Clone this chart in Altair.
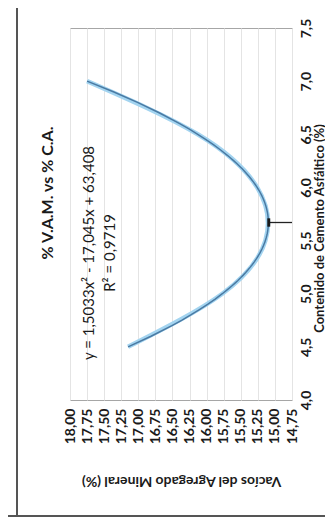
import altair as alt
import pandas as pd

# values
ca = [4.5, 5.0, 5.5, 6.0, 6.5, 7.0]
vam = [17.15, 15.77, 15.14, 15.26, 16.13, 17.75]
opt_ca = [5.67]
opt_vam = [15.09]
vam_ticks = [14.75, 15.0, 15.25, 15.5, 15.75, 16.0, 16.25, 16.5, 16.75, 17.0, 17.25, 17.5, 17.75, 18.0]
ca_ticks = [4.0, 4.5, 5.0, 5.5, 6.0, 6.5, 7.0, 7.5]
title_txt = "% V.A.M. vs % C.A."
eq_txt = "y = 1,5033x² - 17,045x + 63,408"
r2_txt = "R² = 0,9719"
x_title = "Vacíos del Agregado Mineral (%)"
y_title = "Contenido de Cemento Asfáltico (%)"

df = pd.DataFrame({"ca": ca, "vam": vam})
opt = pd.DataFrame({"ca": opt_ca, "vam": opt_vam, "edge": [14.75]})

FONT = "Lato"
INK = "#1a1a1a"

xs = alt.Scale(domain=[14.75, 18.0], reverse=True, nice=False, zero=False)
ys = alt.Scale(domain=[4.0, 7.5], nice=False, zero=False)

xax = alt.Axis(
    values=vam_ticks,
    labelExpr="replace(format(datum.value, '.2f'), '.', ',')",
    labelAngle=270, labelAlign="right", labelBaseline="middle",
    labelOverlap=False, labelBound=False, labelFlush=False,
    labelPadding=8, labelFontSize=14, labelFontWeight="bold", labelColor=INK, labelFont=FONT,
    ticks=False, domain=False, grid=True, gridColor="#e4e4e4",
    title=x_title, titleAngle=180, titleFont=FONT, titleFontSize=14,
    titleFontWeight="bold", titleColor=INK, titleX=111, titleY=80,
    titleAlign="center", titleBaseline="middle",
)
yax = alt.Axis(
    orient="right",
    values=ca_ticks,
    labelExpr="replace(format(datum.value, '.1f'), '.', ',')",
    labelAngle=270, labelAlign="center", labelBaseline="top",
    labelOverlap=False, labelBound=False, labelFlush=False,
    labelPadding=7, labelFontSize=14, labelFontWeight="bold", labelColor=INK, labelFont=FONT,
    ticks=False, domain=False, grid=False,
    title=y_title, titleAngle=270, titleFont=FONT, titleFontSize=13,
    titleFontWeight="bold", titleColor=INK, titleX=27, titleY=200,
    titleAlign="center", titleBaseline="middle",
)

X = alt.X("vam:Q", scale=xs, axis=xax)
Y = alt.Y("ca:Q", scale=ys, axis=yax)

base = alt.Chart(df)

light = base.mark_line(interpolate="natural", color="#a3d4f0", strokeWidth=4.5).encode(
    x=X, y=Y, order="ca:Q",
)

trend = base.transform_regression("ca", "vam", method="poly", order=2).mark_line(
    color="#4a7aa3", strokeWidth=1.5
).encode(x=X, y=Y, order="ca:Q")

drop = alt.Chart(opt).mark_rule(color="#222", strokeWidth=1.3).encode(
    x=X, x2="edge:Q", y=Y
)
marker = alt.Chart(opt).mark_point(
    shape="M-0.35,-1L0.35,-1L0.35,1L-0.35,1Z", filled=True, color="#1a1a1a", size=70, opacity=1
).encode(x=X, y=Y)

title = alt.Chart(pd.DataFrame({"t": [title_txt]})).mark_text(
    angle=270, align="center", baseline="middle", font=FONT, fontSize=16,
    fontWeight="bold", color=INK
).encode(text="t:N", x=alt.value(-22), y=alt.value(165))

eq = alt.Chart(pd.DataFrame({"t": [eq_txt]})).mark_text(
    angle=270, align="center", baseline="middle", font=FONT, fontSize=15, color=INK
).encode(text="t:N", x=alt.value(19), y=alt.value(225))

r2 = alt.Chart(pd.DataFrame({"t": [r2_txt]})).mark_text(
    angle=270, align="center", baseline="middle", font=FONT, fontSize=15, color=INK
).encode(text="t:N", x=alt.value(40), y=alt.value(225))

frame_v = alt.Chart(pd.DataFrame({"a": [0]})).mark_rule(color="#555", strokeWidth=2).encode(
    x=alt.value(-53), y=alt.value(-20), y2=alt.value(489)
)
frame_h = alt.Chart(pd.DataFrame({"a": [0]})).mark_rule(color="#555", strokeWidth=2).encode(
    x=alt.value(-62), x2=alt.value(255), y=alt.value(488)
)

chart = alt.layer(light, trend, drop, marker, title, eq, r2, frame_v, frame_h).properties(
    width=222, height=372,
    autosize=alt.AutoSizeParams(type="none"),
    padding={"left": 62, "top": 20, "right": 33, "bottom": 117},
).configure_view(stroke="#a6a6a6", strokeWidth=1).configure_axis(labelOverlap=False)

chart.save("out.html", embed_options={"renderer": "svg", "actions": False})
